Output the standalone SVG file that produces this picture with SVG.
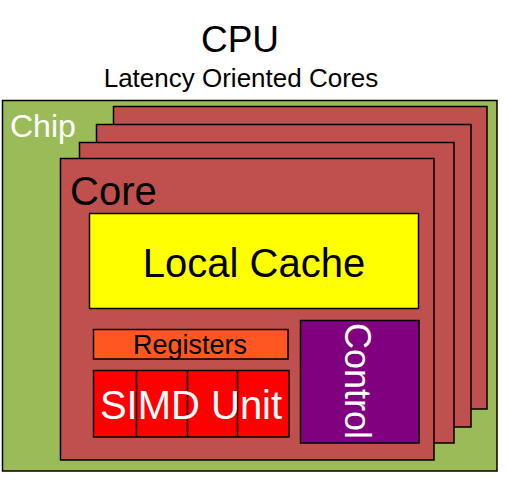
<svg xmlns="http://www.w3.org/2000/svg" width="507" height="486" viewBox="0 0 507 486">
<style>
text{font-family:"Liberation Sans",Arial,sans-serif}
.b{stroke:#000;stroke-width:1.5}
.core{fill:#C0504D}
</style>
<rect width="507" height="486" fill="#fff"/>
<g id="title">
<text x="240" y="52" font-size="37" text-anchor="middle">CPU</text>
<text x="241" y="87" font-size="26" text-anchor="middle">Latency Oriented Cores</text>
</g>
<g id="chip">
<rect class="b" x="2.5" y="100.5" width="494.5" height="370.5" fill="#9BBB59"/>
<text x="10" y="137" font-size="32" fill="#fff">Chip</text>
</g>
<g id="core4"><rect class="b core" x="113.5" y="106.5" width="373.5" height="302.5"/></g>
<g id="core3"><rect class="b core" x="96.5" y="124.5" width="374.5" height="302.5"/></g>
<g id="core2"><rect class="b core" x="79.5" y="142.5" width="374.5" height="300.5"/></g>
<g id="core1">
<rect class="b core" x="60.5" y="158.5" width="373.5" height="301.5"/>
<text x="70" y="205" font-size="40">Core</text>
</g>
<g id="cache">
<rect class="b" x="89.5" y="213.5" width="329" height="95" fill="#FFFF00"/>
<text x="254" y="277" font-size="40" text-anchor="middle">Local Cache</text>
</g>
<g id="registers">
<rect class="b" x="93.5" y="329.5" width="194.5" height="29.5" fill="#FF5722"/>
<text x="190" y="354" font-size="27" text-anchor="middle">Registers</text>
</g>
<g id="simd">
<rect class="b" x="93.5" y="370.5" width="195.5" height="66.5" fill="#FF0000"/>
<line class="b" x1="136.5" y1="370.5" x2="136.5" y2="437"/>
<line class="b" x1="187.5" y1="370.5" x2="187.5" y2="437"/>
<line class="b" x1="237.5" y1="370.5" x2="237.5" y2="437"/>
<text x="191" y="419" font-size="40" fill="#fff" text-anchor="middle">SIMD Unit</text>
</g>
<g id="control">
<rect class="b" x="300.5" y="320.5" width="118.5" height="122.5" fill="#800080"/>
<text transform="translate(345,381) rotate(90)" font-size="36" fill="#fff" text-anchor="middle">Control</text>
</g>
<g id="connectors"></g>
</svg>
